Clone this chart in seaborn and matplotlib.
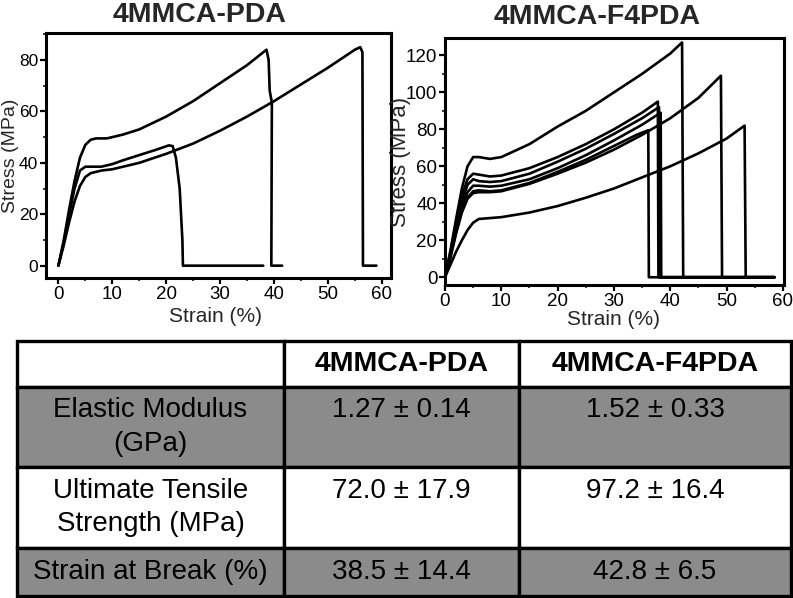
import matplotlib
matplotlib.use("Agg")
import matplotlib.pyplot as plt
from matplotlib.ticker import MultipleLocator, AutoMinorLocator
import seaborn as sns
import pandas as pd

# ---------------- data ----------------
titles = ["4MMCA-PDA", "4MMCA-F4PDA"]
x_label = "Strain (%)"
y_label = "Stress (MPa)"

# 4MMCA-PDA curves (strain %, stress MPa)
pda_a_strain = [0, 1, 2, 3, 4, 5, 6, 7, 9, 12, 15, 20, 25, 30, 35, 38.6, 39.0, 39.2, 39.6, 39.5, 41.5]
pda_a_stress = [0, 10, 22, 33, 42, 47, 49, 49.5, 49.5, 51, 53, 58, 64, 71, 78, 84, 80, 68, 63.5, 0, 0]
pda_b_strain = [0, 1, 2, 3, 4, 5, 6, 8, 10, 12, 15, 18, 20.5, 21.2, 21.8, 22.5, 23.0, 23.1, 38]
pda_b_stress = [0, 9, 20, 30, 37, 38.5, 38.5, 38.5, 39.5, 41, 43, 45, 46.8, 46.5, 42, 30, 10, 0, 0]
pda_c_strain = [0, 1, 2, 3, 4, 5, 6, 8, 10, 12, 15, 20, 25, 30, 35, 40, 45, 50, 55, 56, 56.4, 56.5, 59]
pda_c_stress = [0, 8, 17, 25, 31, 34.5, 36, 37, 37.5, 38.5, 40, 43.5, 47.5, 52.5, 58, 64, 70.5, 77, 84, 85, 83, 0, 0]

# 4MMCA-F4PDA curves
f4_1_strain = [0, 1, 2, 3, 4, 5, 6, 8, 10, 15, 20, 25, 30, 35, 40, 42.1, 42.3, 58.5]
f4_1_stress = [0, 15, 32, 48, 60, 65, 65, 64, 65, 72, 81.5, 90, 100, 110, 121, 127, 0, 0]
f4_2_strain = [0, 1, 2, 3, 4, 5, 6, 8, 10, 15, 20, 25, 30, 35, 37.8, 37.9, 58.5]
f4_2_stress = [0, 14, 30, 44, 53, 56, 55.5, 54.5, 55, 59, 65, 72, 80, 89, 95, 0, 0]
f4_3_strain = [0, 1, 2, 3, 4, 5, 6, 8, 10, 15, 20, 25, 30, 35, 38.0, 38.1, 58.5]
f4_3_stress = [0, 13, 28, 41, 50, 53, 52, 51.5, 52, 56, 62.5, 69.5, 77.5, 86, 92, 0, 0]
f4_4_strain = [0, 1, 2, 3, 4, 5, 6, 8, 10, 15, 20, 25, 30, 35, 38.3, 38.4, 58.5]
f4_4_stress = [0, 12, 26, 38, 46, 49.5, 49.5, 49, 49.5, 53, 59, 66, 74, 82.5, 89, 0, 0]
f4_5_strain = [0, 1, 2, 3, 4, 5, 6, 8, 10, 15, 20, 25, 30, 34, 36.1, 36.2, 58.5]
f4_5_stress = [0, 12, 25, 36, 43, 46.5, 47, 46.5, 47, 51, 57, 63.5, 71, 77, 79.5, 0, 0]
f4_6_strain = [0, 1, 2, 3, 4, 5, 6, 8, 10, 15, 20, 25, 30, 35, 40, 45, 49.0, 49.2, 58.5]
f4_6_stress = [0, 11, 24, 35, 42.5, 45.5, 46, 46, 46.5, 50.5, 56, 62, 69, 77, 86, 97, 109, 0, 0]
f4_7_strain = [0, 1, 2, 3, 4, 5, 6, 8, 10, 15, 20, 25, 30, 35, 40, 45, 50, 53.2, 53.4, 58.5]
f4_7_stress = [0, 7, 14, 20, 25.5, 29.5, 31.5, 32, 32.5, 35, 38.5, 43, 48, 54, 60, 67, 75, 82, 0, 0]

# table
table_columns = ["", "4MMCA-PDA", "4MMCA-F4PDA"]
row_labels = ["Elastic Modulus\n(GPa)", "Ultimate Tensile\nStrength (MPa)", "Strain at Break (%)"]
pda_values = ["1.27 ± 0.14", "72.0 ± 17.9", "38.5 ± 14.4"]
f4pda_values = ["1.52 ± 0.33", "97.2 ± 16.4", "42.8 ± 6.5"]


def to_frame(curves):
    rows = []
    for name, (xs, ys) in curves.items():
        for i, (x, y) in enumerate(zip(xs, ys)):
            rows.append({"sample": name, "order": i, "strain": x, "stress": y})
    return pd.DataFrame(rows)


pda_df = to_frame({"a": (pda_a_strain, pda_a_stress),
                   "b": (pda_b_strain, pda_b_stress),
                   "c": (pda_c_strain, pda_c_stress)})
f4_df = to_frame({"1": (f4_1_strain, f4_1_stress), "2": (f4_2_strain, f4_2_stress),
                  "3": (f4_3_strain, f4_3_stress), "4": (f4_4_strain, f4_4_stress),
                  "5": (f4_5_strain, f4_5_stress), "6": (f4_6_strain, f4_6_stress),
                  "7": (f4_7_strain, f4_7_stress)})

# ---------------- style ----------------
sns.set_style("ticks")
plt.rcParams["font.family"] = ["Liberation Sans", "DejaVu Sans"]

W, H = 793, 598
fig = plt.figure(figsize=(W / 100, H / 100), dpi=100)


def px_axes(l, t, r, b):
    return fig.add_axes([l / W, 1 - b / H, (r - l) / W, (b - t) / H])


ax1 = px_axes(46, 33, 391, 278)
ax2 = px_axes(445, 38, 784, 285)

for ax, df in [(ax1, pda_df), (ax2, f4_df)]:
    sns.lineplot(data=df, x="strain", y="stress", units="sample", estimator=None,
                 sort=False, color="black", linewidth=1.9, ax=ax, legend=False)

ax1.set_xlim(-2.3, 61.7)
ax1.set_ylim(-4.8, 90.5)
ax1.yaxis.set_major_locator(MultipleLocator(20))
ax2.set_xlim(0, 60.2)
ax2.set_ylim(-4.2, 129.4)
ax2.yaxis.set_major_locator(MultipleLocator(20))

for ax in (ax1, ax2):
    ax.xaxis.set_major_locator(MultipleLocator(10))
    ax.xaxis.set_minor_locator(AutoMinorLocator(2))
    ax.yaxis.set_minor_locator(AutoMinorLocator(2))
    for s in ax.spines.values():
        s.set_visible(True)
        s.set_linewidth(2.2)
        s.set_color("black")
    ax.tick_params(which="major", direction="out", length=4, width=1.6,
                   labelsize=13.5, pad=1.5, colors="black")
    ax.tick_params(which="minor", direction="out", length=2.5, width=1.3)
ax1.tick_params(axis="y", which="major", labelsize=12.5)

ax1.set_xlabel(x_label, fontsize=15)
ax1.set_ylabel(y_label, fontsize=14)
ax1.xaxis.set_label_coords(0.49, -0.118)
ax1.yaxis.set_label_coords(-0.078, 0.5)
ax2.set_xlabel(x_label, fontsize=15)
ax2.set_ylabel(y_label, fontsize=16)
ax2.xaxis.set_label_coords(0.496, -0.1)
ax2.yaxis.set_label_coords(-0.1, 0.5)

ax1.text((200 - 46) / 345, (278 - 14.5) / 245, titles[0], transform=ax1.transAxes,
         ha="center", va="center", fontsize=20.5, fontweight="bold")
ax2.text((597 - 445) / 339, (285 - 17.5) / 247, titles[1], transform=ax2.transAxes,
         ha="center", va="center", fontsize=20.5, fontweight="bold")

# ---------------- table ----------------
tax = fig.add_axes([0, 0, 1, 1])
tax.set_axis_off()
cell_text = [table_columns] + [[row_labels[i], pda_values[i] + "\n ", f4pda_values[i] + "\n "]
                               if "\n" in row_labels[i] else
                               [row_labels[i], pda_values[i], f4pda_values[i]]
                               for i in range(len(row_labels))]
grey = "#8b8b8b"
row_colors = ["white", grey, "white", grey]
cell_colours = [[c] * 3 for c in row_colors]
left, right, top, bottom = 17, 791, 341, 596
tbl = tax.table(cellText=cell_text, cellColours=cell_colours, cellLoc="center",
                bbox=[left / W, 1 - bottom / H, (right - left) / W, (bottom - top) / H])
tbl.auto_set_font_size(False)
row_h = [46, 80, 81, 48]
col_w = [267, 235, 272]
for (r, c), cell in tbl.get_celld().items():
    cell.set_height(row_h[r])
    cell.set_width(col_w[c])
    cell.set_edgecolor("black")
    cell.set_linewidth(2.4)
    t = cell.get_text()
    t.set_fontsize(20)
    t.set_color("black")
    t.set_linespacing(1.37)
    if r == 0:
        t.set_fontweight("bold")
        t.set_fontsize(20.5)

fig.savefig("out.png", dpi=100)
